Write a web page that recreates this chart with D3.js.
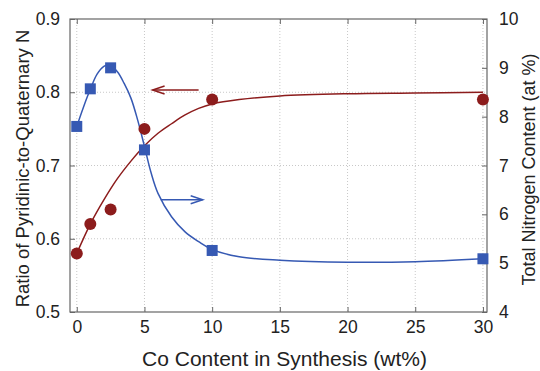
<!DOCTYPE html>
<html>
<head>
<meta charset="utf-8">
<script src="https://cdn.jsdelivr.net/npm/d3@7"></script>
<style>
  body { margin: 0; background: #fff; }
  svg { display: block; font-family: "Liberation Sans", Arial, sans-serif; }
</style>
</head>
<body>
<div id="chart"></div>
<script>
// measured points
var coContent = [0, 1, 2.5, 5, 10, 30];
var ratioPyQ = [0.58, 0.62, 0.64, 0.75, 0.79, 0.79];
var totalN = [7.8, 8.57, 9.0, 7.32, 5.26, 5.09];

// fitted curves
var ratioFitX = [0, 1, 2, 3, 4, 5, 6, 7, 8, 9, 10, 12, 15, 20, 25, 30];
var ratioFitY = [0.580, 0.620, 0.653, 0.682, 0.706, 0.727, 0.744, 0.757, 0.769, 0.778, 0.784, 0.790, 0.795, 0.798, 0.799, 0.800];
var nFitX = [0, 0.5, 1, 1.5, 2, 2.4, 3, 3.5, 4, 4.5, 5, 5.5, 6, 7, 8, 9, 10, 12, 15, 20, 25, 30];
var nFitY = [7.8, 8.2, 8.56, 8.87, 9.03, 9.06, 8.92, 8.68, 8.38, 7.93, 7.39, 6.84, 6.43, 5.95, 5.64, 5.44, 5.28, 5.13, 5.06, 5.02, 5.03, 5.09];

var xTicks = [0, 5, 10, 15, 20, 25, 30];
var leftTicks = [0.5, 0.6, 0.7, 0.8, 0.9];
var rightTicks = [4, 5, 6, 7, 8, 9, 10];

// arrows: [x start, x end, y] in data units
var redArrow = [9.0, 5.6, 0.803];
var blueArrow = [6.2, 9.3, 6.3];

var width = 540,
    height = 371,
    margin = {top: 19, right: 53, bottom: 59, left: 70};

var red = '#8c1c1c',
    blue = '#3659b3',
    frame = '#666';

var svg = d3.select('#chart')
  .append('svg')
  .attr('width', width)
  .attr('height', height);

var x = d3.scaleLinear().domain([-0.5, 30.3]).range([margin.left, width - margin.right]);
var yL = d3.scaleLinear().domain([0.5, 0.9]).range([height - margin.bottom, margin.top]);
var yR = d3.scaleLinear().domain([4, 10]).range([height - margin.bottom, margin.top]);

var x0 = margin.left, x1 = width - margin.right,
    y0 = height - margin.bottom, y1 = margin.top;

// grid
var grid = svg.append('g')
  .attr('stroke', '#c8c8c8')
  .attr('stroke-dasharray', '1,2')
  .attr('stroke-width', 1);

grid.selectAll('.vg')
  .data(xTicks)
  .enter()
  .append('line')
  .attr('x1', function(d) { return x(d); })
  .attr('x2', function(d) { return x(d); })
  .attr('y1', y1)
  .attr('y2', y0);

grid.selectAll('.hg')
  .data(leftTicks.slice(1, -1))
  .enter()
  .append('line')
  .attr('x1', x0)
  .attr('x2', x1)
  .attr('y1', function(d) { return yL(d); })
  .attr('y2', function(d) { return yL(d); });

// axes
function styleAxis(g) {
  g.select('.domain').remove();
  g.selectAll('.tick line').attr('stroke', frame);
  g.selectAll('.tick text').attr('fill', '#222').style('font-size', '17.5px');
}

svg.append('g')
  .attr('transform', 'translate(0,' + y0 + ')')
  .call(d3.axisBottom(x).tickValues(xTicks).tickSize(-5).tickPadding(9).tickFormat(d3.format('d')))
  .call(styleAxis);

svg.append('g')
  .attr('transform', 'translate(0,' + y1 + ')')
  .call(d3.axisTop(x).tickValues(xTicks).tickSize(-5).tickFormat(''))
  .call(styleAxis);

svg.append('g')
  .attr('transform', 'translate(' + x0 + ',0)')
  .call(d3.axisLeft(yL).tickValues(leftTicks).tickSize(-5).tickPadding(10).tickFormat(d3.format('.1f')))
  .call(styleAxis);

svg.append('g')
  .attr('transform', 'translate(' + x1 + ',0)')
  .call(d3.axisRight(yR).tickValues(rightTicks).tickSize(-5).tickPadding(12).tickFormat(d3.format('d')))
  .call(styleAxis);

// frame
svg.append('rect')
  .attr('x', x0)
  .attr('y', y1)
  .attr('width', x1 - x0)
  .attr('height', y0 - y1)
  .attr('fill', 'none')
  .attr('stroke', frame)
  .attr('stroke-width', 1.2);

// fit curves
var redLine = d3.line()
  .x(function(d) { return x(d[0]); })
  .y(function(d) { return yL(d[1]); })
  .curve(d3.curveCatmullRom);

var blueLine = d3.line()
  .x(function(d) { return x(d[0]); })
  .y(function(d) { return yR(d[1]); })
  .curve(d3.curveCatmullRom);

svg.append('path')
  .attr('d', redLine(d3.zip(ratioFitX, ratioFitY)))
  .attr('fill', 'none')
  .attr('stroke', red)
  .attr('stroke-width', 1.5);

svg.append('path')
  .attr('d', blueLine(d3.zip(nFitX, nFitY)))
  .attr('fill', 'none')
  .attr('stroke', blue)
  .attr('stroke-width', 1.5);

// markers
svg.selectAll('.pt')
  .data(d3.zip(coContent, ratioPyQ))
  .enter()
  .append('circle')
  .attr('cx', function(d) { return x(d[0]); })
  .attr('cy', function(d) { return yL(d[1]); })
  .attr('r', 6)
  .attr('fill', red);

var sq = 11;
svg.selectAll('.sq')
  .data(d3.zip(coContent, totalN))
  .enter()
  .append('rect')
  .attr('x', function(d) { return x(d[0]) - sq / 2; })
  .attr('y', function(d) { return yR(d[1]) - sq / 2; })
  .attr('width', sq)
  .attr('height', sq)
  .attr('fill', blue);

// arrows
function arrow(xa, xb, yy, col) {
  var dir = xb > xa ? 1 : -1;
  var g = svg.append('g')
    .attr('stroke', col)
    .attr('stroke-width', 1.5)
    .attr('fill', 'none');
  g.append('line')
    .attr('x1', xa).attr('x2', xb)
    .attr('y1', yy).attr('y2', yy);
  g.append('path')
    .attr('d', 'M' + (xb - dir * 12) + ',' + (yy - 4) + 'L' + xb + ',' + yy + 'L' + (xb - dir * 12) + ',' + (yy + 4));
}
arrow(x(redArrow[0]), x(redArrow[1]), yL(redArrow[2]), red);
arrow(x(blueArrow[0]), x(blueArrow[1]), yR(blueArrow[2]), blue);

// titles
svg.append('text')
  .attr('x', (x0 + x1) / 2 + 6)
  .attr('y', 366)
  .attr('text-anchor', 'middle')
  .attr('fill', '#222')
  .style('font-size', '21px')
  .text('Co Content in Synthesis (wt%)');

svg.append('text')
  .attr('transform', 'translate(29,' + ((y0 + y1) / 2 + 3) + ') rotate(-90)')
  .attr('text-anchor', 'middle')
  .attr('fill', '#222')
  .style('font-size', '18.5px')
  .text('Ratio of Pyridinic-to-Quaternary N');

svg.append('text')
  .attr('transform', 'translate(535,' + ((y0 + y1) / 2 + 4) + ') rotate(-90)')
  .attr('text-anchor', 'middle')
  .attr('fill', '#222')
  .style('font-size', '18px')
  .text('Total Nitrogen Content (at %)');
</script>
</body>
</html>
